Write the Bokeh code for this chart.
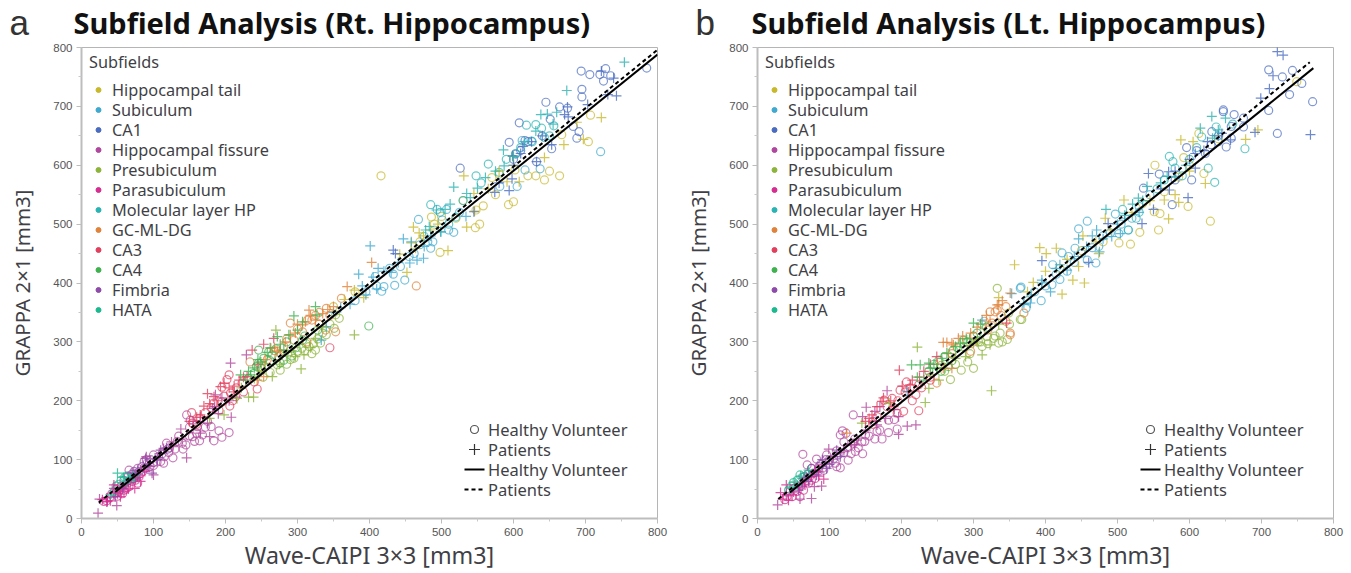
from bokeh.plotting import figure
from bokeh.layouts import row, column
from bokeh.models import Range1d, Label, FixedTicker
from bokeh.core.properties import value
from bokeh.embed import file_html
from bokeh.resources import INLINE

subfields = ["Hippocampal tail", "Subiculum", "CA1", "Hippocampal fissure", "Presubiculum", "Parasubiculum",
             "Molecular layer HP", "GC-ML-DG", "CA3", "CA4", "Fimbria", "HATA"]
colors = ["#c8b92c", "#3fa9cf", "#4a6cc0", "#b0479e", "#8db43a", "#d62d90",
          "#2ab3b3", "#e0823a", "#e23f5e", "#3fb24f", "#8e4aa8", "#1cb98f"]
ticks = [0, 100, 200, 300, 400, 500, 600, 700, 800]
minor_ticks = [50, 150, 250, 350, 450, 550, 650, 750]

# Panel a: right hippocampus (x = Wave-CAIPI, y = GRAPPA)
a_tail_hv = [(416,582),(707,685),(667,652),(704,640),(664,582),(643,575),(631,582),(620,582),(600,538),(593,533),(558,531),(548,524),(553,500),(547,494),(486,512),(498,452),(575,550),(602,592),(570,579),(500,513),(470,470),(490,500),(580,585),(650,590),(520,510),(530,540),(350,360),(380,385)]
a_tail_pt = [(722,681),(688,673),(670,635),(697,644),(643,613),(531,582),(599,615),(608,572),(591,572),(535,495),(546,522),(461,495),(469,485),(485,490),(509,455),(458,468),(464,459),(442,449),(452,418),(392,375),(379,388),(545,552),(475,480),(495,500),(565,560),(580,590),(365,372),(600,600)]
a_sub_hv = [(721,623),(637,594),(616,592),(605,564),(517,486),(468,508),(494,525),(507,525),(501,507),(481,470),(485,459),(476,479),(449,405),(435,396),(420,394),(417,386),(433,415),(443,428),(408,411),(581,564),(625,641),(612,642),(380,370),(395,385),(410,395),(428,425),(455,445),(462,450),(470,465),(490,490),(488,470),(510,490),(525,520)]
a_sub_pt = [(401,463),(385,415),(410,390),(373,364),(412,425),(466,439),(475,442),(456,434),(447,475),(476,462),(534,513),(499,487),(340,326),(333,303),(390,395),(405,410),(420,420),(430,418),(440,435),(350,350),(360,358),(395,380),(458,470),(485,480)]
a_ca1_hv = [(694,760),(706,754),(728,764),(720,754),(735,752),(725,743),(785,765),(695,729),(695,716),(645,707),(664,699),(675,697),(608,672),(651,678),(683,666),(691,657),(688,646),(594,639),(653,628),(632,606),(526,595),(616,642),(603,619),(600,610),(620,640),(640,650),(610,625)]
a_ca1_pt = [(722,760),(739,748),(731,720),(743,718),(703,703),(675,699),(671,686),(676,682),(613,632),(599,616),(653,635),(598,577),(594,557),(574,554),(545,521),(433,456),(436,450),(632,606),(610,620),(600,600),(625,640),(640,650),(580,570)]
a_fis_hv = [(180,156),(191,149),(205,146),(184,132),(195,138),(164,132),(157,131),(146,176),(151,167),(140,128),(133,131),(141,118),(127,103),(121,112),(118,128),(114,94),(110,97),(100,108),(100,90),(87,97),(66,82),(168,142),(154,139),(161,156),(175,165),(160,145),(150,140),(145,125),(130,118),(122,120),(115,105),(105,96),(95,88),(90,100),(78,85),(70,75),(135,140),(172,155),(150,155)]
a_fis_pt = [(23,9),(25,33),(49,22),(146,103),(138,152),(127,122),(114,119),(100,74),(90,105),(207,264),(229,278),(208,172),(186,210),(182,187),(178,139),(165,145),(82,82),(45,51),(215,206),(165,172),(155,165),(185,190),(195,205),(205,200),(140,135),(125,130),(108,110),(95,88),(75,68),(65,62),(58,55),(35,28),(175,162),(190,178)]
a_pre_hv = [(320,280),(325,286),(316,292),(306,289),(300,284),(276,252),(272,261),(351,323),(358,340),(353,346),(332,298),(312,297),(290,270),(340,312),(285,262),(295,272),(322,297),(335,315),(345,330),(262,248),(252,240),(310,285),(328,305)]
a_pre_pt = [(379,312),(305,254),(309,278),(265,241),(232,206),(239,206),(198,176),(270,320),(297,275),(216,204),(178,170),(325,306),(285,282),(255,262),(250,250),(240,238),(275,262),(292,285),(318,290),(335,325),(222,222)]
a_par_hv = [(52,46),(59,48),(40,37),(31,29),(70,63),(82,77),(47,43),(57,42),(66,54),(75,65),(80,71),(48,50),(55,55),(62,50),(42,42),(72,68),(78,60),(35,30),(50,38),(85,80)]
a_par_pt = [(74,51),(82,63),(36,29),(29,32),(45,57),(59,46),(68,61),(54,37),(40,30),(50,42),(65,50),(78,70),(88,80),(55,52),(35,35),(62,58)]
a_mol_hv = [(485,533),(565,602),(548,582),(580,588),(618,668),(631,669),(639,663),(656,667),(643,647),(626,640),(603,620),(510,500),(498,520),(520,512),(530,540),(555,570),(590,610),(610,630),(650,650)]
a_mol_pt = [(754,775),(674,727),(647,687),(638,686),(631,658),(586,626),(587,599),(517,563),(535,552),(550,561),(561,579),(512,534),(493,524),(483,496),(499,487),(478,490),(505,525),(540,545),(575,590),(600,615),(615,640),(655,670),(660,690)]
a_gc_hv = [(465,395),(361,374),(290,332),(320,337),(340,357),(234,266),(353,317),(339,320),(281,292),(295,303),(307,317),(313,300),(274,275),(314,337),(330,350),(300,322),(325,345),(330,330),(285,305),(268,285),(258,270),(345,345),(248,258)]
a_gc_pt = [(403,435),(369,394),(316,354),(253,241),(263,289),(276,286),(283,300),(297,315),(311,334),(244,235),(272,284),(325,337),(307,329),(300,330),(318,345),(290,312),(268,290),(255,270),(335,348),(350,360),(342,355)]
a_ca3_hv = [(244,220),(205,244),(202,236),(195,223),(207,213),(153,180),(163,170),(206,191),(191,184),(223,230),(345,290),(214,207),(184,196),(154,162),(215,222),(198,208),(180,188),(172,180),(232,238),(240,232),(225,215),(210,200),(195,198),(160,160)]
a_ca3_pt = [(175,212),(170,191),(198,230),(253,296),(237,286),(267,306),(193,224),(184,207),(165,176),(219,235),(230,241),(205,222),(212,225),(188,200),(178,195),(225,240),(245,262),(160,172),(150,165),(212,215)]
a_ca4_hv = [(399,327),(260,283),(246,286),(276,264),(265,278),(253,272),(281,269),(246,264),(240,247),(328,320),(307,303),(285,300),(262,268),(250,255),(298,290),(270,288),(243,258),(310,310),(292,276)]
a_ca4_pt = [(295,344),(327,346),(221,244),(232,250),(249,266),(272,309),(307,334),(235,244),(228,235),(281,286),(325,360),(258,282),(245,270),(262,290),(288,312),(300,320),(240,256),(276,296)]
a_fim_hv = [(91,94),(84,88),(73,80),(96,100),(107,105),(59,65),(80,80),(65,72),(100,95),(112,110),(120,118),(75,72),(88,85)]
a_fim_pt = [(98,77),(89,102),(70,77),(57,51),(47,37),(110,116),(78,82),(65,65),(105,100),(118,120),(92,90)]
a_hat_hv = [(60,70),(68,65),(52,58),(75,70),(45,45),(55,65),(48,55),(63,72),(70,68)]
a_hat_pt = [(50,77),(62,62),(72,72),(40,40),(58,70),(66,68)]

# Panel b: left hippocampus
b_tail_hv = [(552,600),(613,654),(598,530),(629,505),(557,490),(531,486),(518,466),(502,468),(559,518),(551,521),(592,613),(620,586),(749,742),(535,535),(565,555),(585,580),(600,600),(480,470),(450,455),(420,425),(640,645)]
b_tail_pt = [(588,643),(605,640),(678,644),(695,660),(622,569),(571,509),(580,550),(585,537),(565,541),(509,541),(483,510),(392,460),(415,459),(401,450),(357,431),(452,480),(438,405),(454,400),(423,381),(383,401),(446,428),(474,450),(335,375),(490,490),(520,520),(545,540),(600,590),(430,440),(470,470),(375,385),(400,420)]
b_sub_hv = [(458,505),(446,492),(497,517),(441,459),(423,451),(410,431),(470,434),(420,406),(409,397),(366,393),(394,370),(432,445),(515,490),(502,484),(474,462),(458,439),(365,391),(373,357),(430,420),(440,435),(450,450),(465,460),(480,480),(490,485),(505,500),(520,510),(400,395),(385,385),(375,370),(415,415),(530,530),(545,550)]
b_sub_pt = [(446,475),(471,490),(492,479),(407,385),(379,366),(420,431),(430,422),(475,453),(457,462),(395,400),(504,484),(353,382),(312,337),(208,216),(380,380),(395,405),(415,425),(440,445),(465,480),(480,475),(510,510),(370,365),(500,500),(530,520)]
b_ca1_hv = [(710,762),(729,750),(743,761),(756,739),(739,720),(771,708),(722,654),(710,693),(647,691),(662,686),(675,680),(658,666),(651,631),(631,657),(658,646),(596,630),(622,620),(603,575),(576,533),(536,561),(558,585),(647,694),(610,625),(630,635),(640,640),(675,665),(580,575)]
b_ca1_pt = [(722,793),(730,787),(716,752),(711,730),(699,714),(768,652),(691,656),(657,643),(645,654),(608,620),(608,595),(598,545),(571,589),(543,586),(572,558),(550,525),(534,501),(487,501),(395,438),(460,435),(600,610),(625,640),(640,650),(580,590),(560,560),(620,625)]
b_fis_hv = [(63,109),(133,176),(118,149),(123,145),(115,142),(146,110),(149,131),(136,114),(163,135),(173,135),(182,146),(194,152),(182,167),(166,148),(115,86),(126,99),(82,101),(69,91),(108,94),(96,108),(150,142),(133,128),(100,100),(110,115),(125,120),(130,110),(140,120),(145,130),(155,140),(170,150),(120,130),(90,85),(75,85),(110,88),(135,135),(160,165),(190,168)]
b_fis_pt = [(28,23),(59,33),(75,34),(89,55),(79,54),(196,143),(208,157),(220,159),(180,217),(151,189),(146,173),(163,182),(196,173),(99,118),(138,133),(166,159),(105,105),(120,115),(135,125),(150,150),(178,170),(190,185),(130,125),(170,190),(165,165),(115,112),(85,80),(65,68),(40,40),(50,45)]
b_pre_hv = [(333,391),(367,338),(300,255),(283,252),(268,236),(292,266),(335,298),(347,304),(328,306),(337,315),(365,338),(349,349),(319,309),(312,292),(307,300),(286,292),(295,280),(320,297),(330,310),(340,300),(275,262),(260,250),(350,330),(310,300)]
b_pre_pt = [(325,217),(222,291),(233,197),(238,221),(312,278),(252,235),(323,295),(289,275),(183,196),(145,162),(260,255),(275,272),(300,298),(240,245),(335,330),(305,300)]
b_par_hv = [(48,37),(64,48),(55,46),(41,37),(71,60),(80,68),(59,37),(75,65),(45,45),(52,52),(60,55),(68,65),(85,85),(38,32),(72,70)]
b_par_pt = [(92,67),(32,44),(40,57),(43,31),(75,71),(52,57),(66,57),(48,40),(58,52),(62,62),(80,80),(35,33),(85,72)]
b_mol_hv = [(572,615),(577,606),(626,595),(635,571),(677,628),(637,665),(617,648),(507,525),(526,510),(590,582),(515,490),(530,520),(555,560),(565,575),(600,610),(640,650),(660,670),(610,630),(580,595)]
b_mol_pt = [(631,683),(650,680),(615,663),(484,525),(521,534),(529,544),(541,564),(569,581),(632,646),(535,540),(560,570),(580,580),(595,600),(640,660),(510,515)]
b_gc_hv = [(370,349),(351,312),(351,315),(323,351),(333,354),(296,284),(249,230),(312,329),(326,332),(300,300),(330,351),(315,335),(320,320),(338,345),(290,300),(270,280),(255,260),(300,310),(345,335),(345,360)]
b_gc_pt = [(351,383),(335,363),(263,299),(258,299),(272,295),(270,255),(296,315),(279,306),(323,334),(258,255),(124,145),(333,363),(270,298),(285,310),(305,325),(318,345),(340,370),(250,262),(265,280)]
b_ca3_hv = [(198,218),(207,232),(220,210),(203,182),(224,183),(176,201),(187,204),(224,227),(194,179),(166,173),(212,222),(228,222),(240,240),(215,200),(195,200),(180,190),(240,235),(160,160),(205,215)]
b_ca3_pt = [(197,252),(201,225),(249,275),(173,199),(166,190),(159,176),(231,250),(212,227),(189,190),(346,332),(215,235),(225,240),(210,215),(240,262),(175,205),(155,170),(185,200),(150,165)]
b_ca4_hv = [(252,269),(272,286),(286,303),(238,250),(300,310),(265,258),(245,262),(260,275),(278,290),(292,300),(305,315),(318,325),(255,250),(270,268)]
b_ca4_pt = [(300,332),(214,261),(226,261),(238,264),(263,281),(249,255),(282,298),(231,235),(245,262),(256,272),(275,292),(290,305),(310,330),(222,240),(240,255)]
b_fim_hv = [(92,82),(99,94),(78,77),(85,88),(64,71),(106,102),(70,75),(88,92),(112,108),(120,112),(95,100),(75,85)]
b_fim_pt = [(110,116),(82,74),(71,63),(57,48),(96,85),(68,70),(90,100),(115,105),(100,92),(62,55)]
b_hat_hv = [(50,61),(59,74),(66,71),(43,48),(55,65),(62,70),(47,55),(70,75)]
b_hat_pt = [(55,57),(71,82),(45,52),(60,72),(52,62)]

# Regression lines
a_hv_line_x, a_hv_line_y = [47, 800], [45, 788]
a_pt_line_x, a_pt_line_y = [24, 800], [27, 796]
b_hv_line_x, b_hv_line_y = [45, 772], [44, 765]
b_pt_line_x, b_pt_line_y = [29, 767], [33, 775]

a_hv = [a_tail_hv, a_sub_hv, a_ca1_hv, a_fis_hv, a_pre_hv, a_par_hv, a_mol_hv, a_gc_hv, a_ca3_hv, a_ca4_hv, a_fim_hv, a_hat_hv]
a_pt = [a_tail_pt, a_sub_pt, a_ca1_pt, a_fis_pt, a_pre_pt, a_par_pt, a_mol_pt, a_gc_pt, a_ca3_pt, a_ca4_pt, a_fim_pt, a_hat_pt]
b_hv = [b_tail_hv, b_sub_hv, b_ca1_hv, b_fis_hv, b_pre_hv, b_par_hv, b_mol_hv, b_gc_hv, b_ca3_hv, b_ca4_hv, b_fim_hv, b_hat_hv]
b_pt = [b_tail_pt, b_sub_pt, b_ca1_pt, b_fis_pt, b_pre_pt, b_par_pt, b_mol_pt, b_gc_pt, b_ca3_pt, b_ca4_pt, b_fim_pt, b_hat_pt]

FONT = "Noto Sans"
TXT = "#3f3f46"
PX_X = 576 / 800   # pixels per data unit
PX_Y = 471 / 800


def ux(px):  # pixels right of the plot's left edge -> data
    return px / PX_X


def uy(px):  # pixels above the plot's bottom edge -> data
    return px / PX_Y


def panel(hv, pt, hv_line, pt_line, width, left, right):
    p = figure(width=width, height=531, output_backend="svg", toolbar_location=None,
               x_range=Range1d(0, 800), y_range=Range1d(0, 800),
               min_border_left=left, min_border_right=right, min_border_top=5, min_border_bottom=55)
    p.grid.visible = False
    p.outline_line_color = "#b5b5b5"
    p.outline_line_width = 1
    for ax, lab, fs in ((p.xaxis, "Wave-CAIPI 3\u00d73 [mm3]", "23.2px"), (p.yaxis, "GRAPPA 2\u00d71 [mm3]", "20.5px")):
        ax.ticker = FixedTicker(ticks=ticks, minor_ticks=minor_ticks)
        ax.axis_label = lab
        ax.axis_label_text_font = FONT
        ax.axis_label_text_font_size = fs
        ax.axis_label_text_font_style = "normal"
        ax.axis_label_text_color = TXT
        ax.axis_line_color = "#bdbdbd"
        ax.axis_line_width = 2
        ax.major_tick_line_color = "#bdbdbd"
        ax.major_tick_line_width = 1
        ax.major_tick_out = 5
        ax.major_tick_in = 0
        ax.minor_tick_line_color = "#c8c8c8"
        ax.minor_tick_out = 3
        ax.minor_tick_in = 0
        ax.major_label_text_font = "Liberation Sans"
        ax.major_label_text_font_size = "11.5px"
        ax.major_label_text_color = "#555555"
        ax.major_label_standoff = 4
    p.xaxis.axis_label_standoff = 0
    p.yaxis.axis_label_standoff = 14

    for pts, c in zip(hv, colors):
        p.scatter([q[0] for q in pts], [q[1] for q in pts], marker="circle", size=8,
                  fill_color=None, line_color=c, line_alpha=0.7, line_width=1.2)
    for pts, c in zip(pt, colors):
        p.scatter([q[0] for q in pts], [q[1] for q in pts], marker="cross", size=10,
                  line_color=c, line_alpha=0.8, line_width=1.2)
    p.line(pt_line[0], pt_line[1], line_color="black", line_width=2.0, line_dash="4 3")
    p.line(hv_line[0], hv_line[1], line_color="black", line_width=2.0)

    # Subfield key, laid out by hand to keep the source's 20 px row pitch
    rows = [428.5 - 20 * i for i in range(12)]
    p.scatter([ux(17)] * 12, [uy(r) for r in rows], marker="circle", size=5, fill_color=colors, line_color=colors)
    p.text([ux(30.5)] * 12, [uy(r) for r in rows], text=subfields, text_font=value(FONT), text_font_size="16.3px",
           text_color=TXT, text_baseline="middle")
    p.text([ux(7.5)], [uy(456.5)], text=["Subfields"], text_font=value(FONT), text_font_size="16.3px",
           text_color=TXT, text_baseline="middle")

    # Patients / volunteers key
    key_y = [89, 69, 49, 29]
    p.text([ux(406.5)] * 4, [uy(k) for k in key_y], text=["Healthy Volunteer", "Patients", "Healthy Volunteer", "Patients"],
           text_font=value(FONT), text_font_size="16.5px", text_color=TXT, text_baseline="middle")
    p.scatter([ux(393)], [uy(key_y[0])], marker="circle", size=8, fill_color=None, line_color="#555555", line_width=1.2)
    p.scatter([ux(393)], [uy(key_y[1])], marker="cross", size=11, line_color="#333333", line_width=1.2)
    p.line([ux(383), ux(403)], [uy(key_y[2])] * 2, line_color="black", line_width=2.0)
    p.line([ux(383), ux(403)], [uy(key_y[3])] * 2, line_color="black", line_width=2.0, line_dash="4 3")
    return p


# Header strip that carries the panel letters and titles
header_x = [9, 73, 695, 751]
header_y = [21.9, 21.7, 21.9, 21.7]
header_text = ["a", "Subfield Analysis (Rt. Hippocampus)", "b", "Subfield Analysis (Lt. Hippocampus)"]
header_font = ["Liberation Sans", FONT, "Liberation Sans", FONT]
header_size = ["35px", "29px", "35px", "29px"]
header_style = ["normal", "bold", "normal", "bold"]

head = figure(width=1350, height=42, output_backend="svg", toolbar_location=None,
              x_range=Range1d(0, 1350), y_range=Range1d(42, 0),
              min_border_left=0, min_border_right=0, min_border_top=0, min_border_bottom=0)
head.axis.visible = False
head.grid.visible = False
head.outline_line_color = None
for x, y, t, f, s, st in zip(header_x, header_y, header_text, header_font, header_size, header_style):
    head.add_layout(Label(x=x, y=y, text=t, text_font=f, text_font_size=s, text_font_style=st,
                          text_color="#111111" if st == "bold" else "#333333", text_baseline="middle"))

pa = panel(a_hv, a_pt, (a_hv_line_x, a_hv_line_y), (a_pt_line_x, a_pt_line_y), 680, 81, 23)
pb = panel(b_hv, b_pt, (b_hv_line_x, b_hv_line_y), (b_pt_line_x, b_pt_line_y), 670, 77, 17)

layout = column(head, row(pa, pb, spacing=0), spacing=0)
open("out.html", "w").write(file_html(layout, INLINE))
